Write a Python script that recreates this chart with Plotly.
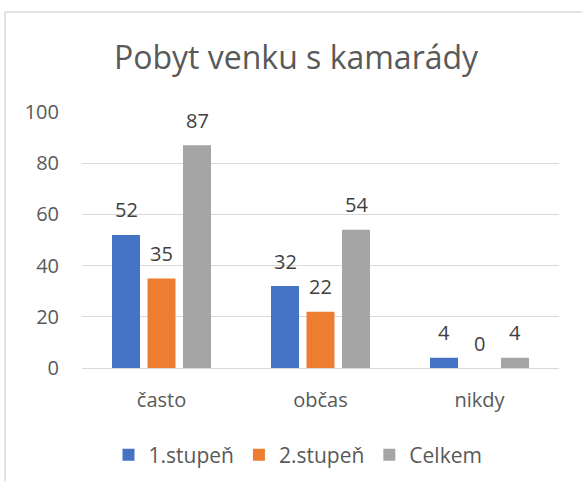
import plotly.graph_objects as go

categories = ["často", "občas", "nikdy"]
series_names = ["1.stupeň", "2.stupeň", "Celkem"]
values_1 = [52, 32, 4]
values_2 = [35, 22, 0]
values_total = [87, 54, 4]
y_ticks = [0, 20, 40, 60, 80, 100]
title_text = "Pobyt venku s kamarády"

colors = ["#4472C4", "#ED7D31", "#A5A5A5"]
all_values = [values_1, values_2, values_total]

W, H = 582, 481
L, R, T, B = 82, 23, 112, 113
pw = W - L - R
ph = H - T - B

slot = 0.2233
bw = 0.176
centers = [-slot, 0.0, slot]

xs = list(range(len(categories)))
fig = go.Figure()
annotations = []
for name, vals, col, c in zip(series_names, all_values, colors, centers):
    fig.add_trace(go.Bar(
        x=xs, y=vals, name=name,
        marker=dict(color=col, line=dict(width=0)),
        width=bw, offset=c - bw / 2,
        hoverinfo="y",
    ))
    for i, v in zip(xs, vals):
        annotations.append(dict(
            x=i + c, y=v, xref="x", yref="y", text=str(v), showarrow=False,
            yanchor="middle", yshift=25,
            font=dict(family="Open Sans", size=20, color="#404040"),
        ))

def px_x(px):
    return (px - L) / pw

def px_y(py):
    return (H - B - py) / ph

shapes = [
    dict(type="line", xref="paper", yref="paper",
         x0=px_x(5), x1=px_x(W + 5), y0=px_y(12), y1=px_y(12),
         line=dict(color="#d9d9d9", width=1.5)),
    dict(type="line", xref="paper", yref="paper",
         x0=px_x(5), x1=px_x(5), y0=px_y(12), y1=px_y(H + 5),
         line=dict(color="#d9d9d9", width=1.5)),
]

fig.update_layout(
    width=W, height=H,
    margin=dict(l=L, r=R, t=T, b=B, autoexpand=False),
    paper_bgcolor="white", plot_bgcolor="white",
    barmode="overlay",
    title=dict(text=title_text, x=296 / W, xanchor="center",
               y=1 - 58 / H, yanchor="middle",
               font=dict(family="Open Sans", size=32, color="#595959")),
    font=dict(family="Open Sans", size=20, color="#595959"),
    showlegend=True,
    legend=dict(orientation="h", x=px_x(298), xanchor="center",
                y=px_y(455), yanchor="middle",
                font=dict(family="Open Sans", size=21, color="#595959"),
                itemwidth=30, tracegroupgap=0, traceorder="normal"),
    annotations=annotations,
    shapes=shapes,
)
fig.update_xaxes(
    range=[-0.5, 2.5], tickvals=xs, ticktext=categories,
    showgrid=False, zeroline=False, showline=True,
    linecolor="#d9d9d9", linewidth=1, ticks="", ticklabelstandoff=14,
    tickfont=dict(family="Open Sans", size=20, color="#595959"),
    fixedrange=True,
)
fig.update_yaxes(
    range=[0, 100], tickvals=y_ticks, showgrid=True, gridcolor="#d9d9d9",
    gridwidth=1, zeroline=False, showline=False, ticks="", ticklabelstandoff=22,
    tickfont=dict(family="Open Sans", size=20, color="#595959"),
    fixedrange=True,
)

fig.write_html("out.html", config={"displayModeBar": False},
               post_script="document.body.style.margin='0px';document.body.style.overflow='hidden';")
